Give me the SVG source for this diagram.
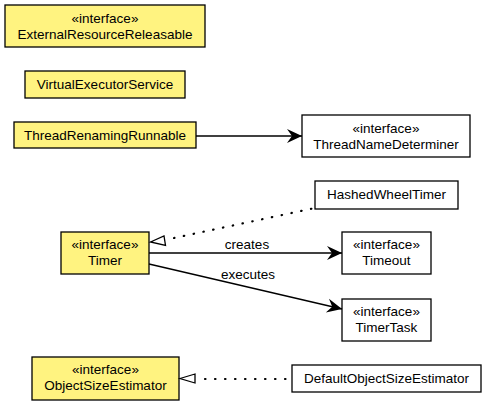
<svg xmlns="http://www.w3.org/2000/svg" width="488" height="405" viewBox="0 0 488 405">
<style>
text{font-family:"Liberation Sans",Arial,sans-serif;font-size:13.5px;text-anchor:middle;fill:#000}
.y{fill:#fff380;stroke:#000;stroke-width:1.3}
.w{fill:#fff;stroke:#000;stroke-width:1.3}
.e{fill:none;stroke:#000;stroke-width:1.3}
.d{fill:none;stroke:#000;stroke-width:2.2;stroke-dasharray:0.5,9.5;stroke-linecap:round}
</style>
<defs>
<marker id="open" markerUnits="userSpaceOnUse" markerWidth="20" markerHeight="18" refX="15" refY="8" orient="auto">
<path d="M0,1 L15,8 L0,15 L5,8 Z" fill="#000"/>
</marker>
</defs>
<rect width="488" height="405" fill="#fff"/>
<g id="ExternalResourceReleasable"><rect class="y" x="5" y="5" width="200" height="42"/><text x="105" y="23">«interface»</text><text x="105" y="39">ExternalResourceReleasable</text></g>
<g id="VirtualExecutorService"><rect class="y" x="25" y="71" width="160" height="27"/><text x="105" y="89">VirtualExecutorService</text></g>
<g id="ThreadRenamingRunnable"><rect class="y" x="14" y="122" width="182" height="26"/><text x="105" y="140">ThreadRenamingRunnable</text></g>
<g id="ThreadNameDeterminer"><rect class="w" x="302" y="115" width="168" height="42"/><text x="386" y="133">«interface»</text><text x="386" y="149">ThreadNameDeterminer</text></g>
<g id="HashedWheelTimer"><rect class="w" x="315" y="181" width="143" height="28"/><text x="386.5" y="199">HashedWheelTimer</text></g>
<g id="Timer"><rect class="y" x="61" y="232" width="88" height="42"/><text x="105" y="249">«interface»</text><text x="105" y="265">Timer</text></g>
<g id="Timeout"><rect class="w" x="342" y="232" width="89" height="42"/><text x="386.5" y="249">«interface»</text><text x="386.5" y="265">Timeout</text></g>
<g id="TimerTask"><rect class="w" x="342" y="299" width="89" height="42"/><text x="386.5" y="316">«interface»</text><text x="386.5" y="332">TimerTask</text></g>
<g id="ObjectSizeEstimator"><rect class="y" x="32" y="357" width="147" height="43"/><text x="105.5" y="374">«interface»</text><text x="105.5" y="390">ObjectSizeEstimator</text></g>
<g id="DefaultObjectSizeEstimator"><rect class="w" x="292" y="365" width="189" height="27"/><text x="386.5" y="383">DefaultObjectSizeEstimator</text></g>
<g id="connectors">
<line class="e" x1="196" y1="136" x2="302" y2="136" marker-end="url(#open)"/>
<line class="e" x1="149" y1="253" x2="342" y2="253" marker-end="url(#open)"/>
<text x="247" y="249">creates</text>
<line class="e" x1="149" y1="264" x2="342" y2="309" marker-end="url(#open)"/>
<text x="248" y="279">executes</text>
<line class="d" x1="174" y1="238" x2="315" y2="208"/>
<path d="M150.5,242 L164,236 L165.5,245.5 Z" fill="#fff" stroke="#000" stroke-width="1.3"/>
<line class="d" x1="205" y1="379" x2="291" y2="379"/>
<path d="M180,378.5 L195,374 L195,383 Z" fill="#fff" stroke="#000" stroke-width="1.3"/>
</g>
</svg>
